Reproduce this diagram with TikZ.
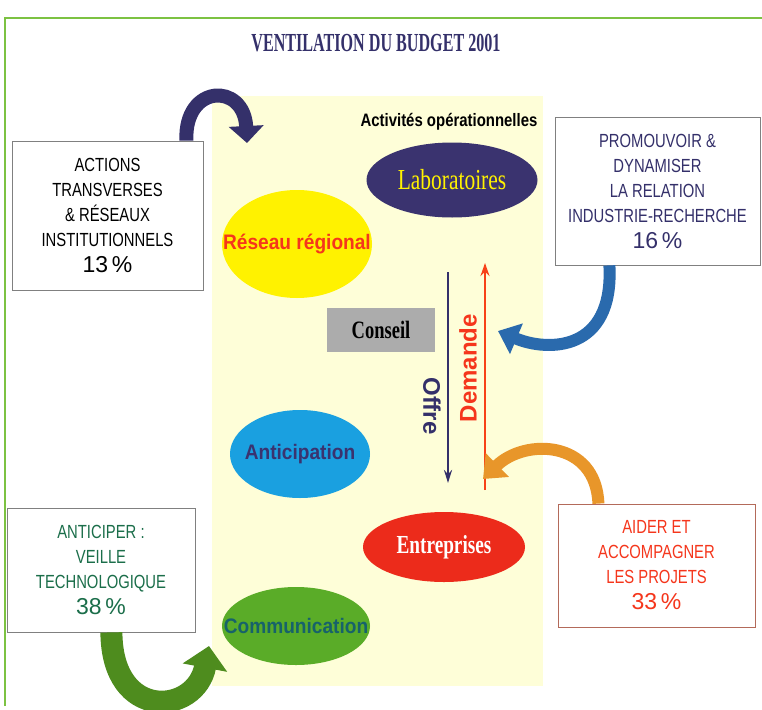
\documentclass[tikz,border=0pt]{standalone}
\usepackage{fontspec}
\setmainfont{Liberation Serif}
\setsansfont{Liberation Sans}
\newfontfamily\boxsans[FakeStretch=0.78]{Liberation Sans}
\newfontfamily\narrowsans[FakeStretch=0.83]{Liberation Sans}
\newfontfamily\polesans[FakeStretch=0.91]{Liberation Sans}
\newfontfamily\titleserif[FakeStretch=0.62]{Liberation Serif}
\newfontfamily\narrowserif[FakeStretch=0.74]{Liberation Serif}
\usetikzlibrary{shapes.geometric,arrows.meta}
\definecolor{navy}{HTML}{34306A}
\definecolor{labo}{HTML}{3A336F}
\definecolor{pale}{HTML}{FEFED8}
\definecolor{sun}{HTML}{FFF200}
\definecolor{redtxt}{HTML}{F5361C}
\definecolor{sky}{HTML}{1AA0E0}
\definecolor{firm}{HTML}{EC2B1B}
\definecolor{leaf}{HTML}{5AAC28}
\definecolor{teal}{HTML}{17626A}
\definecolor{pine}{HTML}{1B6E4A}
\definecolor{moss}{HTML}{4E8C1E}
\definecolor{steel}{HTML}{2A6AAD}
\definecolor{amber}{HTML}{E8962A}
\definecolor{frame}{HTML}{7CC242}
\definecolor{brick}{HTML}{B36A5A}
\tikzset{
  pole/.style={ellipse,inner sep=0pt},
  polesans/.style={font=\polesans\bfseries\fontsize{21}{21}\selectfont},
  budgetbox/.style={draw=gray,line width=0.8pt,fill=white,align=center,inner sep=0pt,
    font=\boxsans\fontsize{19}{25}\selectfont},
  bend/.style={line width=#1,line cap=butt},
}
\newcommand{\pct}[1]{\\[1pt]{\sffamily\fontsize{23}{23}\selectfont #1\,\%}}
\begin{document}
\begin{tikzpicture}[x=1pt,y=-1pt]
  \useasboundingbox (0,0) rectangle (762,709);
  \draw[frame,line width=1.5pt] (5,706) -- (5,18) -- (762,18); %cadre
  \node[navy,font=\titleserif\bfseries\fontsize{26}{26}\selectfont] (title) at (376,43) {VENTILATION DU BUDGET 2001}; %titre
  \fill[pale] (212,96) rectangle (543,686); %fond
  \node[font=\narrowsans\bfseries\fontsize{18}{18}\selectfont] (ops) at (449,122) {Activités opérationnelles};
  % poles
  \node[pole,fill=labo,minimum width=171pt,minimum height=75pt] (labo) at (452,180) {};
  \node[text=sun,font=\narrowserif\fontsize{29}{29}\selectfont] at (labo) {Laboratoires};
  \node[pole,fill=sun,minimum width=150pt,minimum height=108pt] (reseau) at (297,244) {};
  \node[polesans,text=redtxt] at (reseau) {Réseau régional};
  \node[fill=gray!65,minimum width=108pt,minimum height=44pt,inner sep=0pt,
    font=\narrowserif\bfseries\fontsize{25}{25}\selectfont] (conseil) at (381,330) {Conseil};
  \node[pole,fill=sky,minimum width=140pt,minimum height=88pt] (antic) at (300,454) {};
  \node[polesans,text=labo] at (antic) {Anticipation};
  \node[pole,fill=firm,minimum width=162pt,minimum height=70pt] (entr) at (444,547) {};
  \node[text=white,font=\narrowserif\bfseries\fontsize{26}{26}\selectfont] at (entr) {Entreprises};
  \node[pole,fill=leaf,minimum width=148pt,minimum height=78pt] (comm) at (296,626) {};
  \node[polesans,text=teal] at (comm) {Communication};
  % offre / demande
  \coordinate (o1) at (448,272);
  \coordinate (o2) at (448,483);
  \coordinate (d1) at (485,490);
  \coordinate (d2) at (485,263);
  \draw[navy,line width=2.2pt,-{Stealth[length=13pt,width=8pt]}] (o1) -- (o2);
  \draw[redtxt!85!orange,line width=2.2pt,-{Stealth[length=13pt,width=9pt]}] (d1) -- (d2);
  \node[navy,rotate=-90,font=\sffamily\bfseries\fontsize{24}{24}\selectfont] (offre) at (432,406) {Offre};
  \node[redtxt,rotate=90,font=\sffamily\bfseries\fontsize{24}{24}\selectfont] (dem) at (468,368) {Demande};
  % budget
  \node[budgetbox,minimum width=191pt,minimum height=149pt] (b1) at (107.5,215.5)
    {ACTIONS\\TRANSVERSES\\\& RÉSEAUX\\INSTITUTIONNELS\pct{13}};
  \node[budgetbox,minimum width=205pt,minimum height=148pt,text=navy] (b2) at (657.5,191)
    {PROMOUVOIR \&\\DYNAMISER\\LA RELATION\\INDUSTRIE-RECHERCHE\pct{16}};
  \node[budgetbox,minimum width=188pt,minimum height=124pt,text=pine] (b3) at (101,570)
    {ANTICIPER :\\VEILLE\\TECHNOLOGIQUE\pct{38}};
  \node[budgetbox,draw=brick,minimum width=197pt,minimum height=123pt,text=redtxt] (b4) at (656.5,565.5)
    {AIDER ET\\ACCOMPAGNER\\LES PROJETS\pct{33}};
  % fleches courbes
  \coordinate (t1) at (247,143);
  \coordinate (t2) at (498,331);
  \coordinate (t3) at (483,479);
  \coordinate (t4) at (209,646);
  \draw[navy,bend=14pt,-{Triangle[length=17pt,width=34pt]}] ([xshift=-17pt]b1.north east)
    .. controls (184,84) and (244,82) .. (t1);
  \draw[steel,bend=12pt,-{Triangle[length=20pt,width=32pt]}] ([xshift=-151pt]b2.south east)
    .. controls (614,352) and (548,352) .. (t2);
  \draw[amber,bend=12pt,-{Triangle[length=20pt,width=32pt]}] ([xshift=-157pt]b4.north east)
    .. controls (596,440) and (525,438) .. (t3);
  \draw[moss,bend=22pt,-{Triangle[length=22pt,width=44pt]}] ([xshift=-84pt]b3.south east)
    .. controls (112,722) and (196,715) .. (t4);
\end{tikzpicture}
\end{document}
